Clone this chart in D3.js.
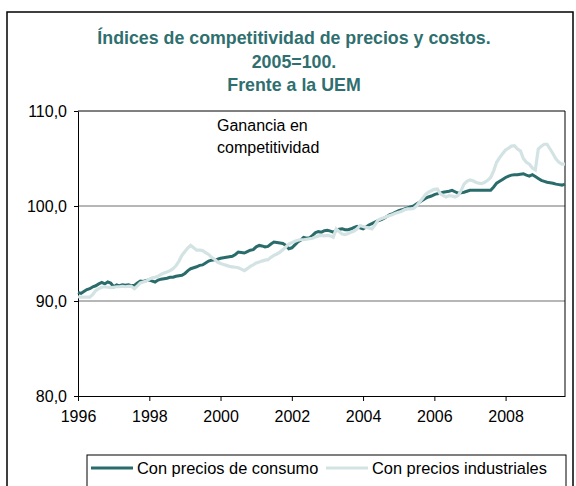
<html>
<head>
<meta charset="utf-8">
<script src="https://d3js.org/d3.v7.min.js"></script>
<style>
  body { margin:0; background:#fff; }
  text { font-family:"Liberation Sans", Arial, sans-serif; }
</style>
</head>
<body>
<svg id="chart"></svg>
<script>

// chart text
var titleLines = ["Índices de competitividad de precios y costos.", "2005=100.", "Frente a la UEM"];
var noteLines = ["Ganancia en", "competitividad"];
var seriesNames = ["Con precios de consumo", "Con precios industriales"];

// axes
var yTicks = [80, 90, 100, 110];
var yGrid = [90, 100];
var xTickYears = [1996, 1998, 2000, 2002, 2004, 2006, 2008];

// monthly data, Jan 1996 .. Sep 2009
var firstYear = 1996;
var consumo = [
  90.9, 90.8, 91.0, 91.2, 91.3, 91.5, 91.6, 91.8, 91.95, 91.8, 92.0, 91.9,
  91.5, 91.7, 91.6, 91.7, 91.65, 91.7, 91.6, 91.65, 91.9, 92.1, 92.05, 92.15,
  92.2, 92.1, 92.0, 92.2, 92.3, 92.35, 92.4, 92.5, 92.5, 92.6, 92.65, 92.7,
  92.9, 93.2, 93.4, 93.5, 93.6, 93.75, 93.8, 94.0, 94.2, 94.3, 94.35, 94.4,
  94.5, 94.55, 94.6, 94.65, 94.7, 94.9, 95.15, 95.1, 95.05, 95.2, 95.35, 95.4,
  95.7, 95.85, 95.8, 95.7, 95.75, 96.0, 96.2, 96.15, 96.1, 96.05, 95.85, 95.5,
  95.6, 95.9, 96.2, 96.4, 96.7, 96.6, 96.65, 96.9, 97.2, 97.3, 97.25, 97.4,
  97.45, 97.35, 97.25, 97.4, 97.55, 97.6, 97.5, 97.5, 97.6, 97.75, 97.85, 97.7,
  97.6, 97.8, 98.0, 98.15, 98.3, 98.45, 98.55, 98.7, 98.9, 99.1, 99.2, 99.35,
  99.5, 99.6, 99.7, 99.8, 99.9, 100.0, 100.2, 100.4, 100.6, 100.8, 100.95, 101.05,
  101.2, 101.3, 101.35, 101.45, 101.5, 101.55, 101.65, 101.5, 101.35, 101.4, 101.45, 101.55,
  101.65, 101.65, 101.65, 101.65, 101.65, 101.65, 101.65, 101.65, 102.0, 102.4, 102.6, 102.8,
  103.0, 103.15, 103.25, 103.3, 103.3, 103.35, 103.4, 103.25, 103.15, 103.3, 103.1, 102.9,
  102.7, 102.6, 102.5, 102.45, 102.4, 102.3, 102.25, 102.2, 102.3
];
var industriales = [
  90.45, 90.4, 90.4, 90.4, 90.4, 90.7, 91.1, 91.3, 91.45, 91.5, 91.45, 91.4,
  91.45, 91.5, 91.5, 91.55, 91.5, 91.55, 91.55, 91.3, 91.6, 91.9, 92.0, 92.1,
  92.3, 92.45, 92.5, 92.6, 92.8, 92.95, 93.05, 93.2, 93.4, 93.7, 94.2, 94.8,
  95.2, 95.6, 95.85, 95.6, 95.35, 95.35, 95.3, 95.1, 94.9, 94.6, 94.4, 94.1,
  93.95, 93.85, 93.75, 93.65, 93.6, 93.55, 93.5, 93.35, 93.2, 93.4, 93.65, 93.8,
  94.0, 94.1, 94.2, 94.3, 94.35, 94.6, 94.8, 94.95, 95.15, 95.4, 95.7, 96.0,
  96.15, 96.3, 96.4, 96.45, 96.45, 96.5, 96.55, 96.6, 96.75, 96.85, 96.9, 96.85,
  96.9, 96.85, 96.7, 97.6, 97.3, 97.05, 97.0, 97.1, 97.25, 97.35, 97.6, 97.95,
  97.85, 97.75, 97.7, 97.6, 98.0, 98.5, 98.65, 98.75, 98.9, 99.0, 99.1, 99.25,
  99.35, 99.45, 99.6, 99.7, 99.7, 99.75, 100.0, 100.4, 100.8, 101.2, 101.45, 101.6,
  101.75, 101.8, 101.3, 101.1, 100.95, 101.1, 101.05, 100.95, 101.1, 101.6, 102.3, 102.6,
  102.75, 102.65, 102.5, 102.4, 102.35, 102.5, 102.7, 103.0, 103.7, 104.6, 105.1, 105.5,
  105.9, 106.1, 106.3, 106.35, 106.0, 105.8, 105.0, 104.6, 104.4, 104.0, 103.8, 106.0,
  106.3, 106.5, 106.5, 106.0, 105.5, 104.95, 104.6, 104.4, 104.4
];

var colors = { consumo:"#2a6c6c", industriales:"#d3e3e3", title:"#2f6f6f" };

var screen = { width:576, height:486 };
var plot = { left:78, top:111, right:565, bottom:396 };

var svg = d3.select("#chart")
    .attr("width", screen.width)
    .attr("height", screen.height);

// outer frame
svg.append("rect")
    .attr("x", 7).attr("y", 12)
    .attr("width", 566).attr("height", 490)
    .attr("fill", "none")
    .attr("stroke", "#000")
    .attr("stroke-width", 1.5);

// title
svg.append("g")
    .selectAll("text")
    .data(titleLines)
    .enter()
    .append("text")
    .text(function(d) { return d; })
    .attr("x", 294)
    .attr("y", function(d, i) { return 44 + i * 23.5; })
    .attr("text-anchor", "middle")
    .attr("font-size", 17.8)
    .attr("font-weight", "bold")
    .attr("fill", colors.title);

var monthDate = function(d, i) { return new Date(firstYear, i, 1); };

var xScale = d3.scaleTime()
    .domain([new Date(firstYear, 0, 1), new Date(firstYear, consumo.length - 1, 1)])
    .range([plot.left, plot.right]);

var yScale = d3.scaleLinear()
    .domain([80, 110])
    .range([plot.bottom, plot.top]);

// grid lines
svg.append("g")
    .selectAll("line")
    .data(yGrid)
    .enter()
    .append("line")
    .attr("x1", plot.left).attr("x2", plot.right)
    .attr("y1", function(d) { return yScale(d); })
    .attr("y2", function(d) { return yScale(d); })
    .attr("stroke", "#6e6e6e")
    .attr("stroke-width", 1);

// plot frame (top and right)
svg.append("path")
    .attr("d", "M" + plot.left + "," + plot.top + "H" + plot.right + "V" + plot.bottom)
    .attr("fill", "none")
    .attr("stroke", "#000")
    .attr("stroke-width", 1);

// axes
var fmt = function(d) { return d3.format(".1f")(d).replace(".", ","); };

var yAxis = d3.axisLeft(yScale)
    .tickValues(yTicks)
    .tickFormat(fmt)
    .tickSizeInner(4)
    .tickSizeOuter(0)
    .tickPadding(7);

var xAxis = d3.axisBottom(xScale)
    .tickValues(xTickYears.map(function(y) { return new Date(y, 0, 1); }))
    .tickFormat(d3.timeFormat("%Y"))
    .tickSizeInner(5)
    .tickSizeOuter(0)
    .tickPadding(10);

var gy = svg.append("g")
    .attr("transform", "translate(" + plot.left + ",0)")
    .call(yAxis);

var gx = svg.append("g")
    .attr("transform", "translate(0," + plot.bottom + ")")
    .call(xAxis);

[gx, gy].forEach(function(g) {
    g.selectAll("text")
        .attr("font-size", 16)
        .attr("font-family", "Liberation Sans, Arial, sans-serif")
        .attr("fill", "#000");
    g.selectAll("line").attr("stroke", "#000");
    g.select(".domain").attr("stroke", "#000");
});

// series lines
var lineGenerator = d3.line()
    .x(function(d, i) { return xScale(monthDate(d, i)); })
    .y(function(d) { return yScale(d); });

svg.append("path")
    .datum(consumo)
    .attr("d", lineGenerator)
    .attr("fill", "none")
    .attr("stroke", colors.consumo)
    .attr("stroke-width", 3);

svg.append("path")
    .datum(industriales)
    .attr("d", lineGenerator)
    .attr("fill", "none")
    .attr("stroke", colors.industriales)
    .attr("stroke-width", 3.2);

// annotation
svg.append("g")
    .selectAll("text")
    .data(noteLines)
    .enter()
    .append("text")
    .text(function(d) { return d; })
    .attr("x", 217)
    .attr("y", function(d, i) { return 131 + i * 21.5; })
    .attr("font-size", 16)
    .attr("fill", "#000");

// legend
var legend = svg.append("g");

legend.append("rect")
    .attr("x", 87).attr("y", 455)
    .attr("width", 479).attr("height", 45)
    .attr("fill", "#fff")
    .attr("stroke", "#000")
    .attr("stroke-width", 1);

var legendItems = [
    { name:seriesNames[0], color:colors.consumo, x:91 },
    { name:seriesNames[1], color:colors.industriales, x:326 }
];

legendItems.forEach(function(item) {
    legend.append("line")
        .attr("x1", item.x).attr("x2", item.x + 42)
        .attr("y1", 468).attr("y2", 468)
        .attr("stroke", item.color)
        .attr("stroke-width", 3);
    legend.append("text")
        .text(item.name)
        .attr("x", item.x + 46)
        .attr("y", 474)
        .attr("font-size", 16.4)
        .attr("fill", "#000");
});

</script>
</body>
</html>
